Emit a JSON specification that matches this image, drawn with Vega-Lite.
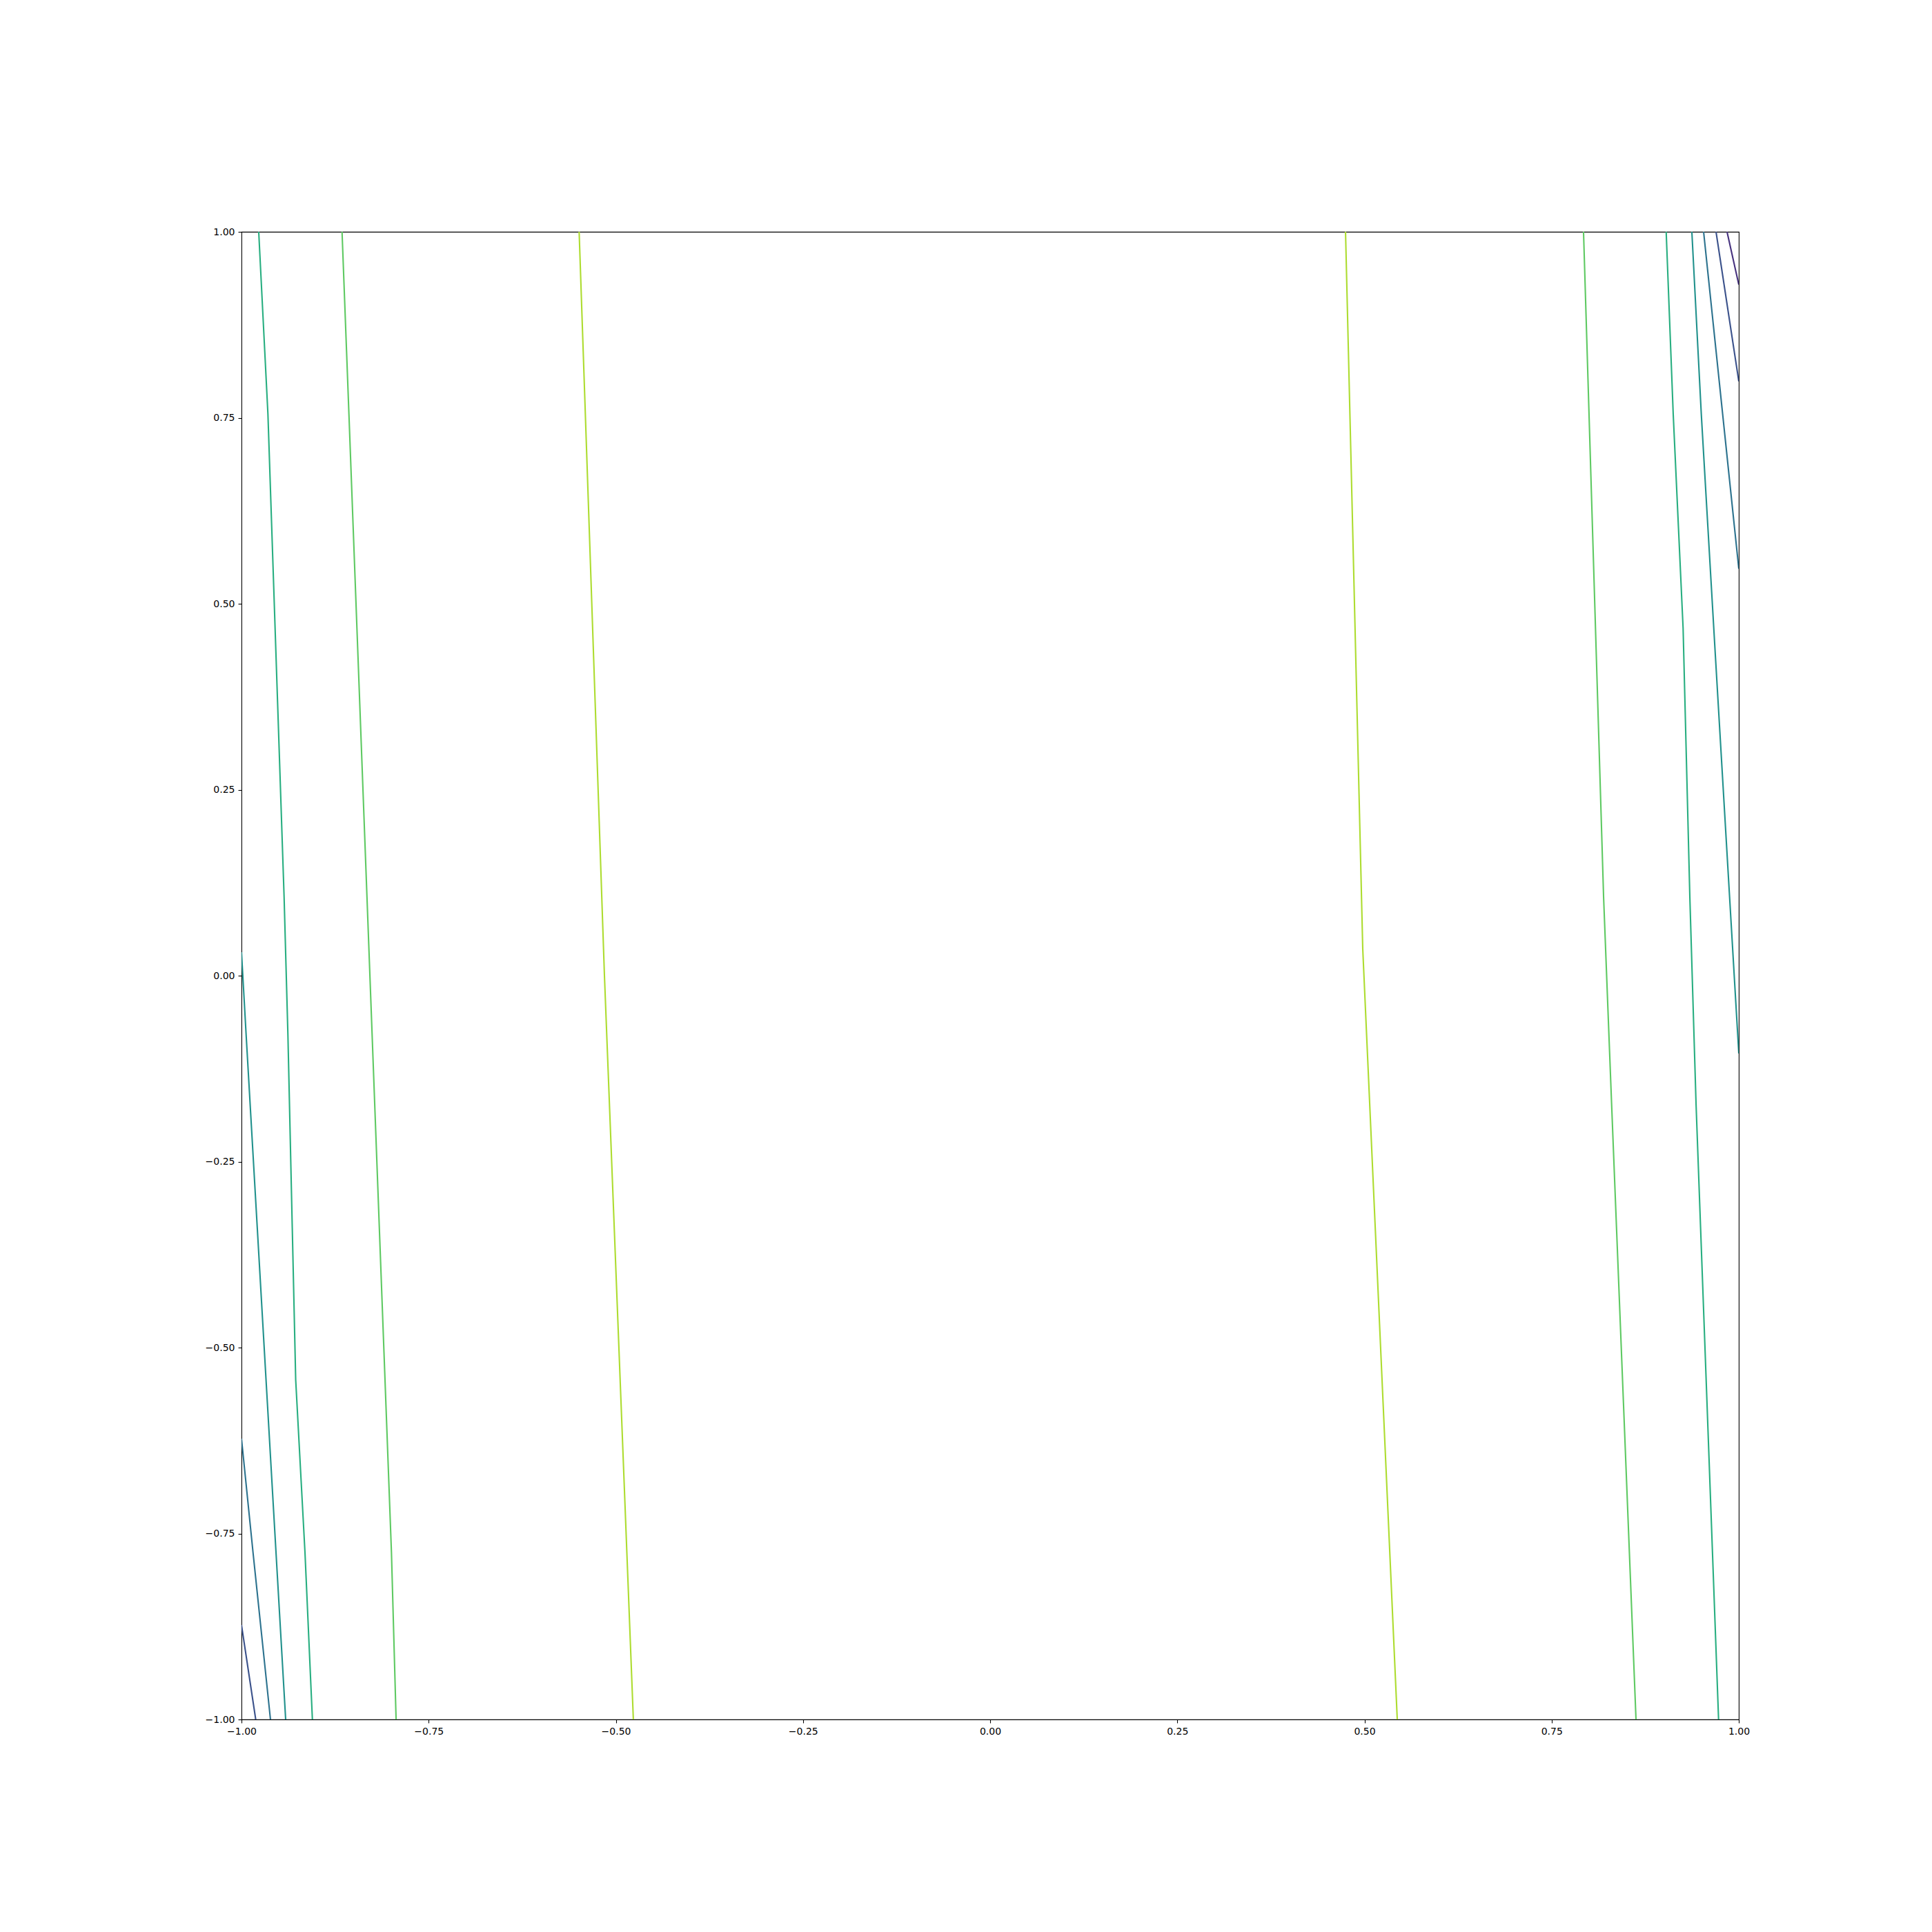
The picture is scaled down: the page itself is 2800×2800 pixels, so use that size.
{
  "$schema": "https://vega.github.io/schema/vega-lite/v6.json",
  "autosize": {"type": "none"},
  "padding": {"left": 350, "top": 336, "right": 280, "bottom": 308},
  "width": 2170,
  "height": 2156,
  "background": "white",
  "config": {
    "view": {"stroke": "black", "strokeWidth": 1.1},
    "axis": {
      "labelFont": "DejaVu Sans",
      "labelFontSize": 14,
      "labelColor": "black",
      "labelFlush": false,
      "labelOverlap": false,
      "tickColor": "black",
      "tickSize": 5,
      "tickWidth": 1.1,
      "labelPadding": 5,
      "domain": false,
      "grid": false,
      "title": null
    }
  },
  "data": {
    "values": [
      {"seg": "1R", "lvl": 1, "i": 0, "x": 0.9843, "y": 1.0},
      {"seg": "1R", "lvl": 1, "i": 1, "x": 1.0, "y": 0.929},
      {"seg": "2R", "lvl": 2, "i": 0, "x": 0.9696, "y": 1.0},
      {"seg": "2R", "lvl": 2, "i": 1, "x": 1.0, "y": 0.799},
      {"seg": "2L", "lvl": 2, "i": 0, "x": -1.0, "y": -0.873},
      {"seg": "2L", "lvl": 2, "i": 1, "x": -0.981, "y": -1.0},
      {"seg": "3R", "lvl": 3, "i": 0, "x": 0.953, "y": 1.0},
      {"seg": "3R", "lvl": 3, "i": 1, "x": 1.0, "y": 0.547},
      {"seg": "3L", "lvl": 3, "i": 0, "x": -1.0, "y": -0.6225},
      {"seg": "3L", "lvl": 3, "i": 1, "x": -0.9846, "y": -0.7755},
      {"seg": "3L", "lvl": 3, "i": 2, "x": -0.9613, "y": -1.0},
      {"seg": "4R", "lvl": 4, "i": 0, "x": 0.9373, "y": 1.0},
      {"seg": "4R", "lvl": 4, "i": 1, "x": 0.9499, "y": 0.755},
      {"seg": "4R", "lvl": 4, "i": 2, "x": 0.9687, "y": 0.4304},
      {"seg": "4R", "lvl": 4, "i": 3, "x": 0.9877, "y": 0.1058},
      {"seg": "4R", "lvl": 4, "i": 4, "x": 1.0, "y": -0.1045},
      {"seg": "4L", "lvl": 4, "i": 0, "x": -1.0, "y": 0.0315},
      {"seg": "4L", "lvl": 4, "i": 1, "x": -0.9938, "y": -0.0798},
      {"seg": "4L", "lvl": 4, "i": 2, "x": -0.9539, "y": -0.7755},
      {"seg": "4L", "lvl": 4, "i": 3, "x": -0.941, "y": -1.0},
      {"seg": "5R", "lvl": 5, "i": 0, "x": 0.903, "y": 1.0},
      {"seg": "5R", "lvl": 5, "i": 1, "x": 0.9124, "y": 0.755},
      {"seg": "5R", "lvl": 5, "i": 2, "x": 0.9256, "y": 0.467},
      {"seg": "5R", "lvl": 5, "i": 3, "x": 0.9346, "y": 0.1058},
      {"seg": "5R", "lvl": 5, "i": 4, "x": 0.9429, "y": -0.1726},
      {"seg": "5R", "lvl": 5, "i": 5, "x": 0.973, "y": -1.0},
      {"seg": "5L", "lvl": 5, "i": 0, "x": -0.977, "y": 1.0},
      {"seg": "5L", "lvl": 5, "i": 1, "x": -0.9647, "y": 0.755},
      {"seg": "5L", "lvl": 5, "i": 2, "x": -0.9431, "y": 0.1058},
      {"seg": "5L", "lvl": 5, "i": 3, "x": -0.938, "y": -0.0798},
      {"seg": "5L", "lvl": 5, "i": 4, "x": -0.9276, "y": -0.5436},
      {"seg": "5L", "lvl": 5, "i": 5, "x": -0.9152, "y": -0.7755},
      {"seg": "5L", "lvl": 5, "i": 6, "x": -0.9053, "y": -1.0},
      {"seg": "6R", "lvl": 6, "i": 0, "x": 0.7926, "y": 1.0},
      {"seg": "6R", "lvl": 6, "i": 1, "x": 0.8194, "y": 0.1058},
      {"seg": "6R", "lvl": 6, "i": 2, "x": 0.8301, "y": -0.1726},
      {"seg": "6R", "lvl": 6, "i": 3, "x": 0.8627, "y": -1.0},
      {"seg": "6L", "lvl": 6, "i": 0, "x": -0.8657, "y": 1.0},
      {"seg": "6L", "lvl": 6, "i": 1, "x": -0.8565, "y": 0.755},
      {"seg": "6L", "lvl": 6, "i": 2, "x": -0.7997, "y": -0.7755},
      {"seg": "6L", "lvl": 6, "i": 3, "x": -0.7935, "y": -1.0},
      {"seg": "7R", "lvl": 7, "i": 0, "x": 0.4747, "y": 1.0},
      {"seg": "7R", "lvl": 7, "i": 1, "x": 0.4977, "y": 0.036},
      {"seg": "7R", "lvl": 7, "i": 2, "x": 0.5438, "y": -1.0},
      {"seg": "7L", "lvl": 7, "i": 0, "x": -0.549, "y": 1.0},
      {"seg": "7L", "lvl": 7, "i": 1, "x": -0.5152, "y": 0.0},
      {"seg": "7L", "lvl": 7, "i": 2, "x": -0.4766, "y": -1.0}
    ]
  },
  "mark": {"type": "line", "strokeWidth": 2.1, "clip": true},
  "encoding": {
    "x": {
      "field": "x", "type": "quantitative",
      "scale": {"domain": [-1, 1], "nice": false, "zero": false},
      "axis": {"values": [-1, -0.75, -0.5, -0.25, 0, 0.25, 0.5, 0.75, 1], "format": ".2f"}
    },
    "y": {
      "field": "y", "type": "quantitative",
      "scale": {"domain": [-1, 1], "nice": false, "zero": false},
      "axis": {"values": [-1, -0.75, -0.5, -0.25, 0, 0.25, 0.5, 0.75, 1], "format": ".2f"}
    },
    "color": {
      "field": "lvl", "type": "ordinal",
      "scale": {"domain": [1, 2, 3, 4, 5, 6, 7], "range": ["#46327e", "#3b528b", "#2c728e", "#21918c", "#28ae80", "#5ec962", "#addc30"]},
      "legend": null
    },
    "detail": {"field": "seg", "type": "nominal"},
    "order": {"field": "i", "type": "quantitative"}
  }
}
